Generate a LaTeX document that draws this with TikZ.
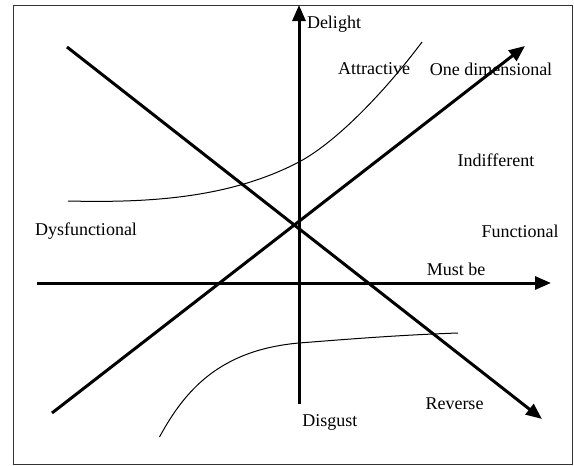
\documentclass[tikz,border=0pt]{standalone}
\usepackage{fontspec}
\setmainfont{Liberation Serif}
\usetikzlibrary{arrows.meta}
\begin{document}
\begin{tikzpicture}[x=1pt,y=-1pt,
  axis/.style={line width=3pt,-{Triangle[length=16pt,width=13pt]}},
  curveline/.style={line width=1pt},
  lbl/.style={font=\fontsize{18}{20}\selectfont,inner sep=0pt}]
\useasboundingbox (0,0) rectangle (574,466);
\draw[line width=1.5pt,black!80] (13.5,5.5) rectangle (572.5,464.5);
% coordinates
\coordinate (vb) at (299,404);
\coordinate (vt) at (299,5);
\coordinate (hl) at (37,283);
\coordinate (hr) at (551,283);
\coordinate (ds) at (67,47);
\coordinate (de) at (542,419);
\coordinate (as) at (52,413);
\coordinate (ae) at (525,46);
\coordinate (u0) at (68,201);
\coordinate (u1) at (299,162);
\coordinate (u2) at (422,42);
\coordinate (l0) at (159.5,437);
\coordinate (l1) at (299,343);
\coordinate (l2) at (458,333);
% axes and diagonals
\draw[axis] (vb) -- (vt);
\draw[axis] (hl) -- (hr);
\draw[axis] (ds) -- (de);
\draw[axis] (as) -- (ae);
% curves
\draw[curveline] (u0) .. controls (150,203) and (230,198) .. (u1)
                      .. controls (340,140) and (390,85) .. (u2);
\draw[curveline] (l0) .. controls (185,390) and (220,350) .. (l1)
                      .. controls (350,339) and (400,335) .. (l2);
% labels
\node[lbl] (delight) at (334,24) {Delight};
\node[lbl] (attr) at (374,69) {Attractive};
\node[lbl] (onedim) at (491,69) {One dimensional};
\node[lbl] (indiff) at (496,160) {Indifferent};
\node[lbl] (dysf) at (86,231) {Dysfunctional};
\node[lbl] (func) at (520,231) {Functional};
\node[lbl] (mustbe) at (456,269) {Must be};
\node[lbl] (rev) at (454.5,404) {Reverse};
\node[lbl] (disg) at (330,422) {Disgust};
\end{tikzpicture}
\end{document}
